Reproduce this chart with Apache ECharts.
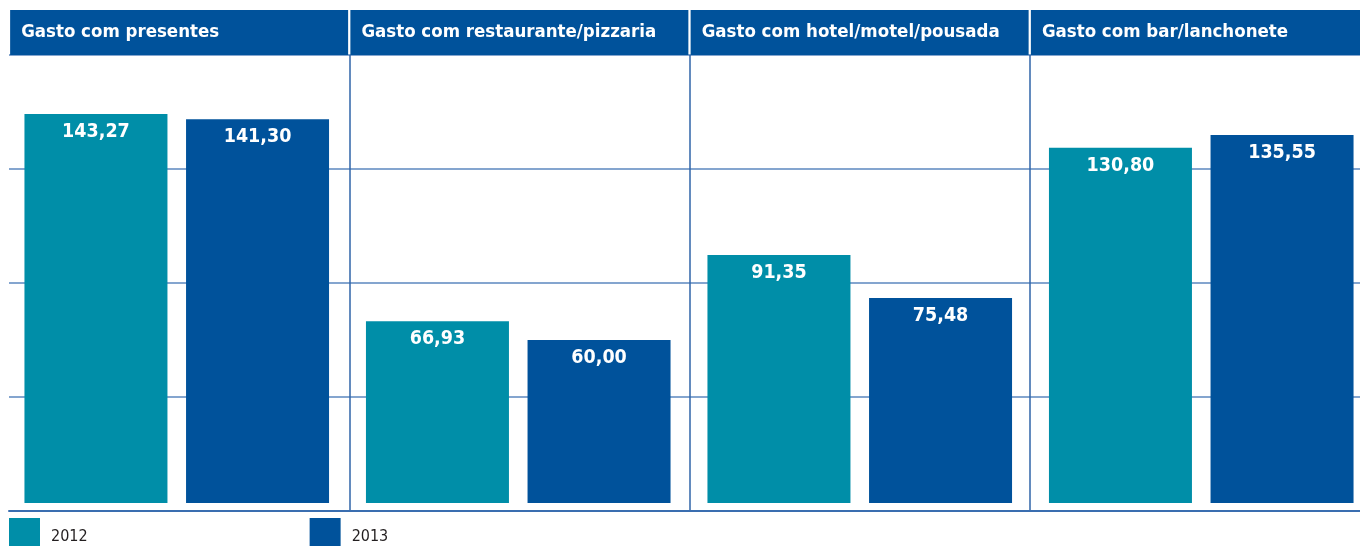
<!DOCTYPE html>
<html>
<head>
<meta charset="utf-8">
<script src="https://cdn.jsdelivr.net/npm/echarts@6/dist/echarts.min.js"></script>
<style>
  html, body { margin: 0; padding: 0; background: #fff; }
  #chart { width: 1360px; height: 546px; }
</style>
</head>
<body>
<div id="chart"></div>
<script>
const categories = ['Gasto com presentes', 'Gasto com restaurante/pizzaria', 'Gasto com hotel/motel/pousada', 'Gasto com bar/lanchonete'];
const years = ['2012', '2013'];
const values2012 = [143.27, 66.93, 91.35, 130.80];
const values2013 = [141.30, 60.00, 75.48, 135.55];

const font = '"Liberation Sans Narrow", "DejaVu Sans Condensed", Arial, sans-serif';
const teal = '#008ea8';
const blue = '#00529b';

let chart = echarts.init(document.getElementById('chart'));

const fmt = (v) => Number(v).toFixed(2).replace('.', ',');

const labelStyle = {
  show: true,
  position: 'insideTop',
  distance: 8,
  color: '#fff',
  fontFamily: font,
  fontWeight: 'bold',
  fontSize: 19.5,
  formatter: (p) => fmt(p.value)
};

let option = {
  animation: false,
  color: [teal, blue],
  legend: {
    data: years,
    left: 9,
    top: 518,
    padding: 0,
    itemWidth: 31,
    itemHeight: 30,
    itemGap: 222,
    icon: 'rect',
    formatter: (name) => '{y|' + name + '}',
    textStyle: {
      rich: {
        y: {
          color: '#231f20',
          fontFamily: font,
          fontSize: 16,
          padding: [7, 0, 0, 6]
        }
      }
    }
  },
  grid: [
    // frame: header, dividers, gridlines
    { left: 9, top: 55, width: 1361, height: 456, outerBoundsMode: 'none', containLabel: false },
    // bars
    { left: 6, top: 55, width: 1366, height: 448, outerBoundsMode: 'none', containLabel: false }
  ],
  xAxis: [{
    type: 'category',
    gridIndex: 0,
    data: categories,
    position: 'top',
    axisLine: { show: false },
    axisTick: { show: false },
    splitLine: {
      show: true,
      interval: (i) => i > 0,
      lineStyle: { color: '#2f65a8', width: 1.5 }
    },
    axisLabel: {
      interval: 0,
      margin: 0,
      align: 'center',
      width: 338,
      height: 45,
      lineHeight: 45,
      backgroundColor: blue,
      formatter: (v) => '{t|' + v + '}',
      rich: {
        t: {
          align: 'left',
          padding: [0, 0, 0, 11],
          color: '#fff',
          fontFamily: font,
          fontWeight: 'bold',
          fontSize: 18.5,
          lineHeight: 45
        }
      }
    }
  }, {
    type: 'category',
    gridIndex: 0,
    data: categories,
    position: 'bottom',
    axisLine: { show: true, lineStyle: { color: '#3a6eb0', width: 2 } },
    axisTick: { show: false },
    axisLabel: { show: false }
  }, {
    type: 'category',
    gridIndex: 1,
    data: categories,
    show: false
  }],
  yAxis: [{
    type: 'value',
    gridIndex: 0,
    min: 0,
    max: 4,
    interval: 1,
    axisLine: { show: false },
    axisTick: { show: false },
    axisLabel: { show: false },
    splitLine: { lineStyle: { color: '#5b87bf', width: 1.5 } }
  }, {
    type: 'value',
    gridIndex: 1,
    min: 0,
    max: 165,
    show: false,
    splitLine: { show: false }
  }],
  series: [{
    name: years[0],
    type: 'bar',
    xAxisIndex: 2,
    yAxisIndex: 1,
    data: values2012,
    barWidth: 143,
    barGap: '13%',
    itemStyle: { color: teal },
    label: labelStyle
  }, {
    name: years[1],
    type: 'bar',
    xAxisIndex: 2,
    yAxisIndex: 1,
    data: values2013,
    barWidth: 143,
    itemStyle: { color: blue },
    label: labelStyle
  }]
};

chart.setOption(option);
</script>
</body>
</html>
